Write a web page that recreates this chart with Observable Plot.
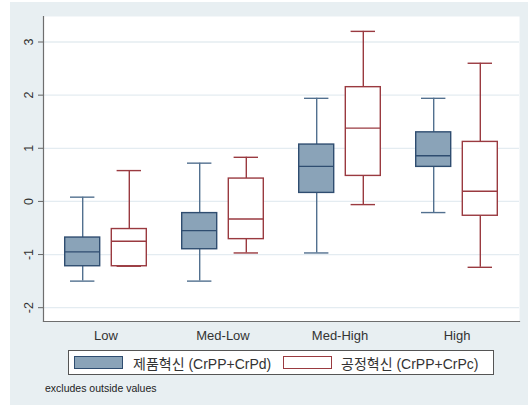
<!DOCTYPE html>
<html><head><meta charset="utf-8">
<script src="https://cdn.jsdelivr.net/npm/d3@7"></script>
<script src="https://cdn.jsdelivr.net/npm/@observablehq/plot@0.6"></script>
<style>
body{margin:0;background:#fff;font-family:"Liberation Sans",Arial,sans-serif;}
#wrap{position:relative;width:528px;height:405px;overflow:hidden;}
#bg{position:absolute;left:10px;top:2px;width:518px;height:403px;background:#e8eff2;}
#chart{position:absolute;left:0;top:0;}
#legend{position:absolute;left:68px;top:350px;width:424px;height:23px;border:1px solid #555;background:#fff;}
.sw{position:absolute;top:5px;width:47px;height:11px;border:1.5px solid;}
.lt{position:absolute;top:2px;font-size:14px;color:#333;white-space:nowrap;font-family:"Liberation Sans","Noto Sans CJK KR",sans-serif;}
#caption{position:absolute;left:45px;top:382px;font-size:10.5px;color:#222;}
</style></head>
<body>
<div id="wrap"><div id="bg"></div><div id="chart"></div>
<div id="legend"></div>
<div id="caption">excludes outside values</div>
</div>
<script>
const categories = ["Low","Med-Low","Med-High","High"];
const seriesNames = ["제품혁신 (CrPP+CrPd)","공정혁신 (CrPP+CrPc)"];
const productLo  = [-1.50,-1.50,-0.97,-0.21];
const productQ1  = [-1.22,-0.90, 0.16, 0.65];
const productMed = [-0.95,-0.55, 0.66, 0.86];
const productQ3  = [-0.68,-0.22, 1.07, 1.30];
const productHi  = [ 0.08, 0.72, 1.94, 1.94];
const processLo  = [-1.22,-0.97,-0.06,-1.24];
const processQ1  = [-1.22,-0.71, 0.48,-0.27];
const processMed = [-0.75,-0.33, 1.38, 0.19];
const processQ3  = [-0.52, 0.43, 2.15, 1.12];
const processHi  = [ 0.58, 0.83, 3.20, 2.60];
const yTicks = [-2,-1,0,1,2,3];

const build = (lo,q1,med,q3,hi) => categories.map((c,i)=>({category:c, lo:lo[i], q1:q1[i], med:med[i], q3:q3[i], hi:hi[i]}));
const product = build(productLo,productQ1,productMed,productQ3,productHi);
const processD = build(processLo,processQ1,processMed,processQ3,processHi);

const styles = [
  {data:product, dx:-23.3, fill:"#8aa3b8", stroke:"#2f4d70", whisker:"#52708f"},
  {data:processD, dx:23.3, fill:"#ffffff", stroke:"#9a3a40", whisker:"#9a3a40"}
];

const boxMarks = styles.flatMap(s => [
  Plot.ruleX(s.data, {x:"category", y1:"lo", y2:"q1", dx:s.dx, stroke:s.whisker, strokeWidth:1.4}),
  Plot.ruleX(s.data, {x:"category", y1:"q3", y2:"hi", dx:s.dx, stroke:s.whisker, strokeWidth:1.4}),
  Plot.tickY(s.data, {x:"category", y:"lo", dx:s.dx, insetLeft:5.3, insetRight:5.3, stroke:s.whisker, strokeWidth:1.4}),
  Plot.tickY(s.data, {x:"category", y:"hi", dx:s.dx, insetLeft:5.3, insetRight:5.3, stroke:s.whisker, strokeWidth:1.4}),
  Plot.barY(s.data, {x:"category", y1:"q1", y2:"q3", dx:s.dx, fill:s.fill, stroke:s.stroke, strokeWidth:1.4}),
  Plot.tickY(s.data, {x:"category", y:"med", dx:s.dx, stroke:s.stroke, strokeWidth:1.4})
]);

const chart = Plot.plot({
  width:528, height:345,
  marginLeft:43, marginRight:9, marginTop:16, marginBottom:24,
  style:{background:"transparent", fontFamily:"'Liberation Sans', Arial, sans-serif"},
  x:{type:"band", domain:categories, paddingInner:0.705, paddingOuter:0.38, label:null},
  y:{domain:[-2.26,3.48], label:null},
  marks:[
    Plot.frame({fill:"white", stroke:"none"}),
    Plot.gridY(yTicks, {stroke:"#e4ecf1", strokeOpacity:1, strokeWidth:1.3}),
    Plot.frame({anchor:"left", stroke:"#6e6e6e", strokeWidth:1.2}),
    Plot.frame({anchor:"bottom", stroke:"#6e6e6e", strokeWidth:1.2}),
    Plot.axisY({ticks:yTicks, tickSize:5, tickRotate:-90, tickPadding:6, fontSize:12.5, tickFormat:d=>String(d), color:"#333", stroke:"#666", label:null}),
    Plot.axisX({tickSize:0, tickPadding:9, fontSize:13, color:"#333", label:null}),
    ...boxMarks
  ]
});
document.getElementById("chart").append(chart);

const legend = document.getElementById("legend");
const swLeft = [5, 214], txLeft = [64, 272];
seriesNames.forEach((name,i)=>{
  const sw = document.createElement("div");
  sw.className="sw"; sw.style.left=swLeft[i]+"px";
  sw.style.background=styles[i].fill; sw.style.borderColor=styles[i].stroke;
  legend.append(sw);
  const t = document.createElement("div");
  t.className="lt"; t.style.left=txLeft[i]+"px"; t.textContent=name;
  legend.append(t);
});
</script>
</body></html>
